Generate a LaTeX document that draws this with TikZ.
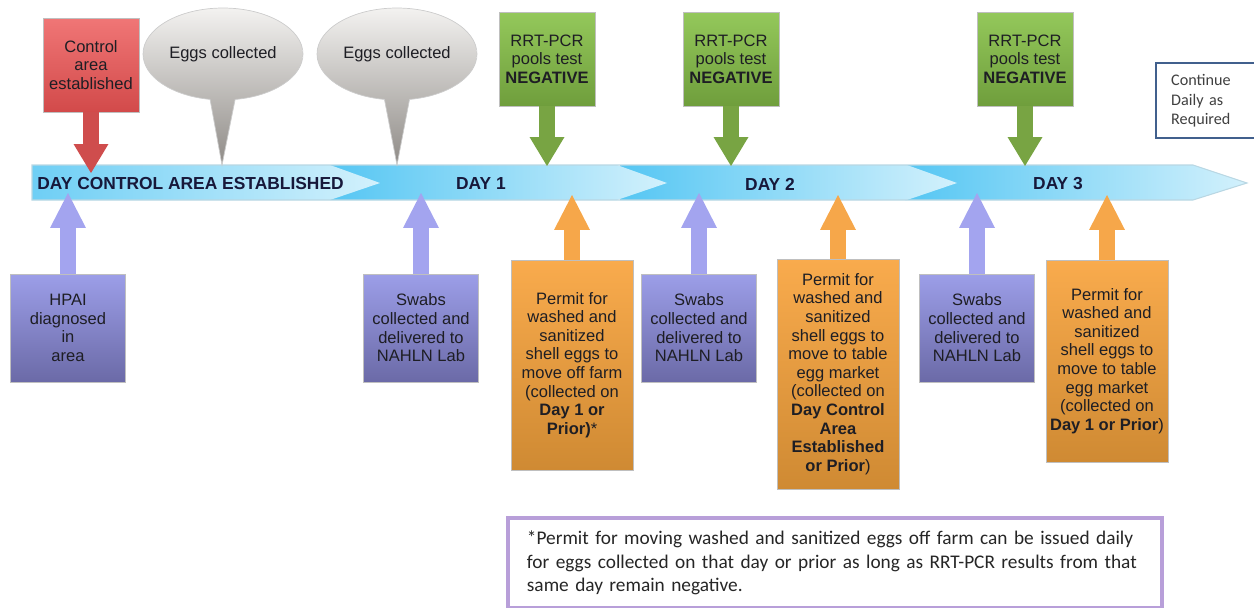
\documentclass[tikz,border=0pt]{standalone}
\usepackage{fontspec}
\setmainfont{Liberation Sans}
\newfontfamily\calibri{Carlito}
\usetikzlibrary{arrows.meta,shapes.callouts}

\definecolor{bandDark}{HTML}{55C6F3}
\definecolor{bandLight}{HTML}{D3F1FC}
\definecolor{bandLine}{HTML}{B9D7E3}
\definecolor{redTop}{HTML}{F07676}
\definecolor{redBot}{HTML}{D24A4A}
\definecolor{redArr}{HTML}{CF4D4D}
\definecolor{grayTop}{HTML}{F3F2F0}
\definecolor{grayBot}{HTML}{8F8B87}
\definecolor{greenTop}{HTML}{94C85B}
\definecolor{greenBot}{HTML}{6F9E3C}
\definecolor{greenArr}{HTML}{78A443}
\definecolor{purpTop}{HTML}{9C9EE8}
\definecolor{purpBot}{HTML}{6B6AA7}
\definecolor{purpArr}{HTML}{A3A4EF}
\definecolor{orTop}{HTML}{F9AB4D}
\definecolor{orBot}{HTML}{CF8A33}
\definecolor{orArr}{HTML}{F6A74A}
\definecolor{navy}{HTML}{41608D}
\definecolor{lav}{HTML}{B89FD9}
\definecolor{txt}{HTML}{1E1E24}
\definecolor{bandTxt}{HTML}{17183A}

\tikzset{
  boxtext/.style={font=\fontsize{9.4}{10.6}\selectfont, text=txt, align=center, inner sep=0pt, draw=black!25},
  redbox/.style={boxtext, top color=redTop, bottom color=redBot, minimum width=1.92cm, minimum height=1.88cm},
  greenbox/.style={boxtext, top color=greenTop, bottom color=greenBot, minimum width=1.92cm, minimum height=1.88cm},
  purpbox/.style={boxtext, top color=purpTop, bottom color=purpBot, minimum width=2.3cm, minimum height=2.16cm},
  orbox/.style={boxtext, top color=orTop, bottom color=orBot, minimum width=2.44cm},
  bubble/.style={ellipse callout, callout pointer arc=18, draw=black!20, top color=grayTop, bottom color=grayBot,
    minimum width=3.2cm, minimum height=1.84cm, inner sep=0pt, font=\fontsize{9.4}{10.6}\selectfont, text=txt},
  daylabel/.style={font=\fontsize{9.9}{12}\selectfont\bfseries, text=bandTxt, inner sep=0pt},
  downarrow/.style={line width=0.32cm, -{Triangle[width=0.7cm,length=0.58cm,line width=0pt]}},
  uparrow/.style={line width=0.32cm, -{Triangle[width=0.72cm,length=0.7cm,line width=0pt]}},
  contbox/.style={draw=navy, line width=1.4pt, fill=white, align=left, text width=1.8cm, inner xsep=0.3cm,
    minimum height=1.5cm, font=\calibri\fontsize{9.2}{11}\selectfont, text=black!75},
  notebox/.style={draw=lav, line width=2.2pt, fill=white, align=left, text width=12.32cm, inner xsep=0.38cm,
    minimum height=1.8cm, font=\calibri\fontsize{11}{13.3}\selectfont, text=black!85}
}

\begin{document}
\begin{tikzpicture}[x=0.02cm,y=-0.02cm]
\useasboundingbox (0,0) rectangle (1254,608);

% timeline band, right segment first
\shade[left color=bandDark, right color=bandLight] (905,165)--(1193,165)--(1247,183)--(1193,200)--(905,200)--cycle;
\shade[left color=bandDark, right color=bandLight] (620,165)--(907,165)--(957,183)--(907,200)--(620,200)--cycle;
\shade[left color=bandDark, right color=bandLight] (330,165)--(617,165)--(667,183)--(617,200)--(330,200)--cycle;
\shade[left color=bandDark!85, right color=bandLight] (32,165)--(330,165)--(380,183)--(330,200)--(32,200)--cycle;
\draw[bandLine, line width=0.6pt] (32,165)--(1193,165)--(1247,183)--(1193,200)--(32,200)--cycle;

\node[daylabel, anchor=west] (day0) at (37,184) {DAY CONTROL AREA ESTABLISHED};
\node[daylabel] (day1) at (481,184) {DAY 1};
\node[daylabel] (day2) at (770,184) {DAY 2};
\node[daylabel] (day3) at (1058,184) {DAY 3};

% points on the band
\coordinate (ctltip) at (91,173);
\coordinate (egg1tip) at (222,165);
\coordinate (egg2tip) at (397,165);
\coordinate (neg1tip) at (547,166);
\coordinate (neg2tip) at (731,166);
\coordinate (neg3tip) at (1025,166);
\coordinate (hpaitip) at (68,193);
\coordinate (swab1tip) at (421,193);
\coordinate (swab2tip) at (699,193);
\coordinate (swab3tip) at (977,193);
\coordinate (perm1tip) at (572,195);
\coordinate (perm2tip) at (838,195);
\coordinate (perm3tip) at (1107,195);

% above the band
\node[redbox] (ctl) at (91,65) {Control\\area\\established};
\draw[downarrow, redArr] (ctl) -- (ctltip);

\node[bubble, callout absolute pointer={(egg1tip)}] (egg1) at (223,54) {Eggs collected};
\node[bubble, callout absolute pointer={(egg2tip)}] (egg2) at (397,54) {Eggs collected};

\node[greenbox] (neg1) at (547,59) {RRT-PCR\\pools test\\\textbf{NEGATIVE}};
\node[greenbox] (neg2) at (731,59) {RRT-PCR\\pools test\\\textbf{NEGATIVE}};
\node[greenbox] (neg3) at (1025,59) {RRT-PCR\\pools test\\\textbf{NEGATIVE}};
\draw[downarrow, greenArr] (neg1) -- (neg1tip);
\draw[downarrow, greenArr] (neg2) -- (neg2tip);
\draw[downarrow, greenArr] (neg3) -- (neg3tip);

\node[contbox, anchor=north west] (cont) at (1155,62) {Continue\\Daily as\\Required};

% below the band
\node[purpbox] (hpai) at (68,328) {HPAI\\diagnosed\\in\\area};
\node[purpbox] (swab1) at (421,328) {Swabs\\collected and\\delivered to\\NAHLN Lab};
\node[purpbox] (swab2) at (699,328) {Swabs\\collected and\\delivered to\\NAHLN Lab};
\node[purpbox] (swab3) at (977,328) {Swabs\\collected and\\delivered to\\NAHLN Lab};
\draw[uparrow, purpArr] (hpai) -- (hpaitip);
\draw[uparrow, purpArr] (swab1) -- (swab1tip);
\draw[uparrow, purpArr] (swab2) -- (swab2tip);
\draw[uparrow, purpArr] (swab3) -- (swab3tip);

\node[orbox, minimum height=4.2cm] (perm1) at (572,365) {Permit for\\washed and\\sanitized\\shell eggs to\\move off farm\\(collected on\\\textbf{Day 1 or}\\\textbf{Prior)}*};
\node[orbox, minimum height=4.6cm] (perm2) at (838,374) {Permit for\\washed and\\sanitized\\shell eggs to\\move to table\\egg market\\(collected on\\\textbf{Day Control}\\\textbf{Area}\\\textbf{Established}\\\textbf{or Prior})};
\node[orbox, minimum height=4.04cm] (perm3) at (1107,361) {Permit for\\washed and\\sanitized\\shell eggs to\\move to table\\egg market\\(collected on\\\textbf{Day 1 or Prior})};
\draw[uparrow, orArr] (perm1) -- (perm1tip);
\draw[uparrow, orArr] (perm2) -- (perm2tip);
\draw[uparrow, orArr] (perm3) -- (perm3tip);

% footnote
\node[notebox, anchor=north west] (note) at (506,516) {*Permit for moving washed and sanitized eggs off farm can be issued daily\\for eggs collected on that day or prior as long as RRT-PCR results from that\\same day remain negative.};
\end{tikzpicture}
\end{document}
